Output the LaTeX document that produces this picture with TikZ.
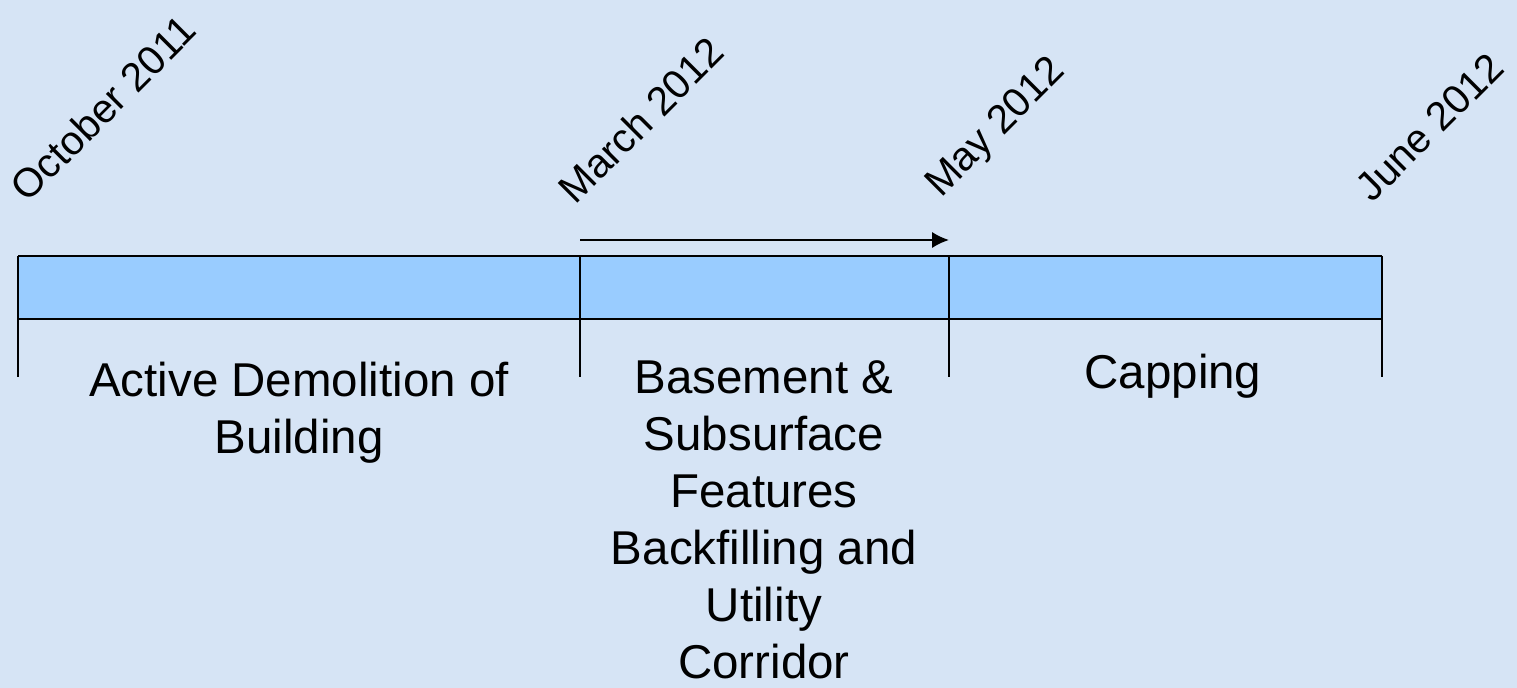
\documentclass[tikz,border=0pt]{standalone}
\usepackage{fontspec}
\setmainfont{Liberation Sans}
\usetikzlibrary{arrows.meta}
\definecolor{bgblue}{RGB}{214,228,245}
\definecolor{barblue}{RGB}{153,204,255}
\begin{document}
\begin{tikzpicture}[x=0.01cm, y=-0.01cm,
    datelabel/.style={rotate=45, anchor=south west, inner sep=0pt,
        font=\fontsize{11.5}{14}\selectfont},
    phase/.style={anchor=north, align=center, inner sep=0pt,
        font=\fontsize{13.5}{16.2}\selectfont}]
    % 背景
    \fill[bgblue] (0,0) rectangle (1517,688);
    \useasboundingbox (0,0) rectangle (1517,688);

    % 时间轴分界点
    \coordinate (t0) at (18,256);
    \coordinate (t1) at (580,256);
    \coordinate (t2) at (949,256);
    \coordinate (t3) at (1382,256);

    % 蓝色条
    \fill[barblue] (t0) rectangle (1382,319);
    \draw[semithick] (t0) -- (t3);
    \draw[semithick] (18,319) -- (1382,319);
    \foreach \t in {t0,t1,t2,t3}
        \draw[semithick] (\t) -- ++(0,121);

    % 箭头
    \coordinate (a0) at (580,240);
    \coordinate (a1) at (949,240);
    \draw[semithick, -{Latex[length=4.8pt, width=4.6pt]}] (a0) -- (a1);

    % 日期
    \node[datelabel] (oct) at (28,205) {October 2011};
    \node[datelabel] (mar) at (576,207) {March 2012};
    \node[datelabel] (may) at (947,205) {May 2012};
    \node[datelabel] (jun) at (1373,205) {June 2012};

    % 阶段
    \node[phase] (demo) at (299,361) {Active Demolition of\\Building};
    \node[phase] (base) at (764,360) {Basement \&\\Subsurface\\Features\\Backfilling and\\Utility\\Corridor};
    \node[phase] (cap) at (1173,353) {Capping};
\end{tikzpicture}
\end{document}
